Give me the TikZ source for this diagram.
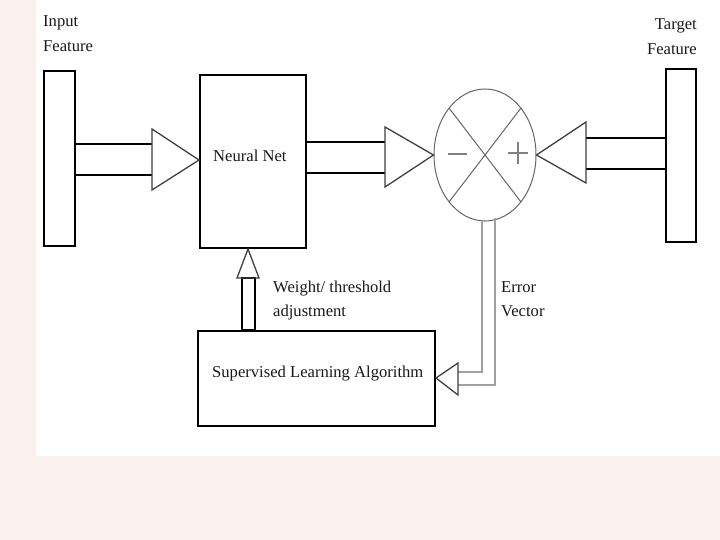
\documentclass[tikz,border=0pt]{standalone}
\usepackage{fontspec}
\setmainfont{Liberation Serif}
\usetikzlibrary{shapes.geometric,calc}
\definecolor{pinkbg}{HTML}{FAF0EE}
\definecolor{errgray}{HTML}{A0A0A0}
\begin{document}
\begin{tikzpicture}[x=1pt,y=-1pt,
  bar/.style={draw, line width=2pt, inner sep=0pt, anchor=north west},
  shaft/.style={line width=2pt},
  tri/.style={draw=black!75, line width=1.3pt, line join=miter},
  lbl/.style={font=\fontsize{16.6}{19}\selectfont, inner sep=0pt, text=black!90}]
\useasboundingbox (0,0) rectangle (720,540);
\fill[pinkbg] (0,0) rectangle (720,540);
\fill[white] (36,0) rectangle (720,456);

% blocks
\node[bar, minimum width=31pt, minimum height=175pt] (inbar) at (43,70) {};
\node[bar, minimum width=106pt, minimum height=173pt] (nn) at (199,74) {};
\node[bar, minimum width=30pt, minimum height=173pt] (tgbar) at (665,68) {};
\node[bar, minimum width=237pt, minimum height=95pt] (sla) at (197,330) {};
\node[draw=black!60, line width=1pt, ellipse, minimum width=102pt, minimum height=132pt, inner sep=0pt] (sum) at (485,155) {};

% input -> neural net
\draw[shaft] (inbar.east |- 0,144) -- (152,144);
\draw[shaft] (inbar.east |- 0,175) -- (152,175);
\draw[tri] (152,129) -- (nn.west |- 0,160) -- (152,190) -- cycle;

% neural net -> sum
\draw[shaft] (nn.east |- 0,142) -- (385,142);
\draw[shaft] (nn.east |- 0,173) -- (385,173);
\draw[tri] (385,127) -- (sum.west) -- (385,187) -- cycle;

% target -> sum
\draw[shaft] (586,138) -- (tgbar.west |- 0,138);
\draw[shaft] (586,169) -- (tgbar.west |- 0,169);
\draw[tri] (586,122) -- (sum.east) -- (586,183) -- cycle;

% X inside the summing junction
\draw[black!60, line width=1pt] ($(sum.center)+(-36,-47)$) -- ($(sum.center)+(36,47)$);
\draw[black!60, line width=1pt] ($(sum.center)+(36,-47)$) -- ($(sum.center)+(-36,47)$);
\draw[gray, line width=2pt] (448,154) -- (467,154);
\draw[gray, line width=1.5pt] (508,153) -- (528,153) (518,142) -- (518,164);

% error vector -> supervised learning
\draw[errgray, line width=1.5pt] ($(sum.south)+(-3,-1)$) -- (482,372) -- (458,372);
\draw[errgray, line width=1.5pt] ($(sum.south)+(10,-3)$) -- (495,385) -- (458,385);
\draw[tri] (458,363) -- (sla.east |- 0,378) -- (458,395) -- cycle;

% weight adjustment -> neural net
\draw[line width=2pt] (242,331) -- (242,278) -- (255,278) -- (255,331);
\draw[line width=3pt] (241,330) -- (256,330);
\draw[tri] (237,278) -- ($(nn.south west)+(49,0)$) -- (259,278) -- cycle;

% labels
\node[lbl, anchor=base west] (lin1) at (43,27) {Input};
\node[lbl, anchor=base west] (lin2) at (43,52) {Feature};
\node[lbl, anchor=base east] (ltg1) at (697,30) {Target};
\node[lbl, anchor=base east] (ltg2) at (697,55) {Feature};
\node[lbl, anchor=base west] (lnn) at (213,162) {Neural Net};
\node[lbl, anchor=base west] (lw1) at (273,292) {Weight/ threshold};
\node[lbl, anchor=base west] (lw2) at (273,316) {adjustment};
\node[lbl, anchor=base west] (le1) at (501,292) {Error};
\node[lbl, anchor=base west] (le2) at (501,316) {Vector};
\node[lbl, anchor=base west] (lsla) at (212,377) {Supervised Learning Algorithm};
\end{tikzpicture}
\end{document}
